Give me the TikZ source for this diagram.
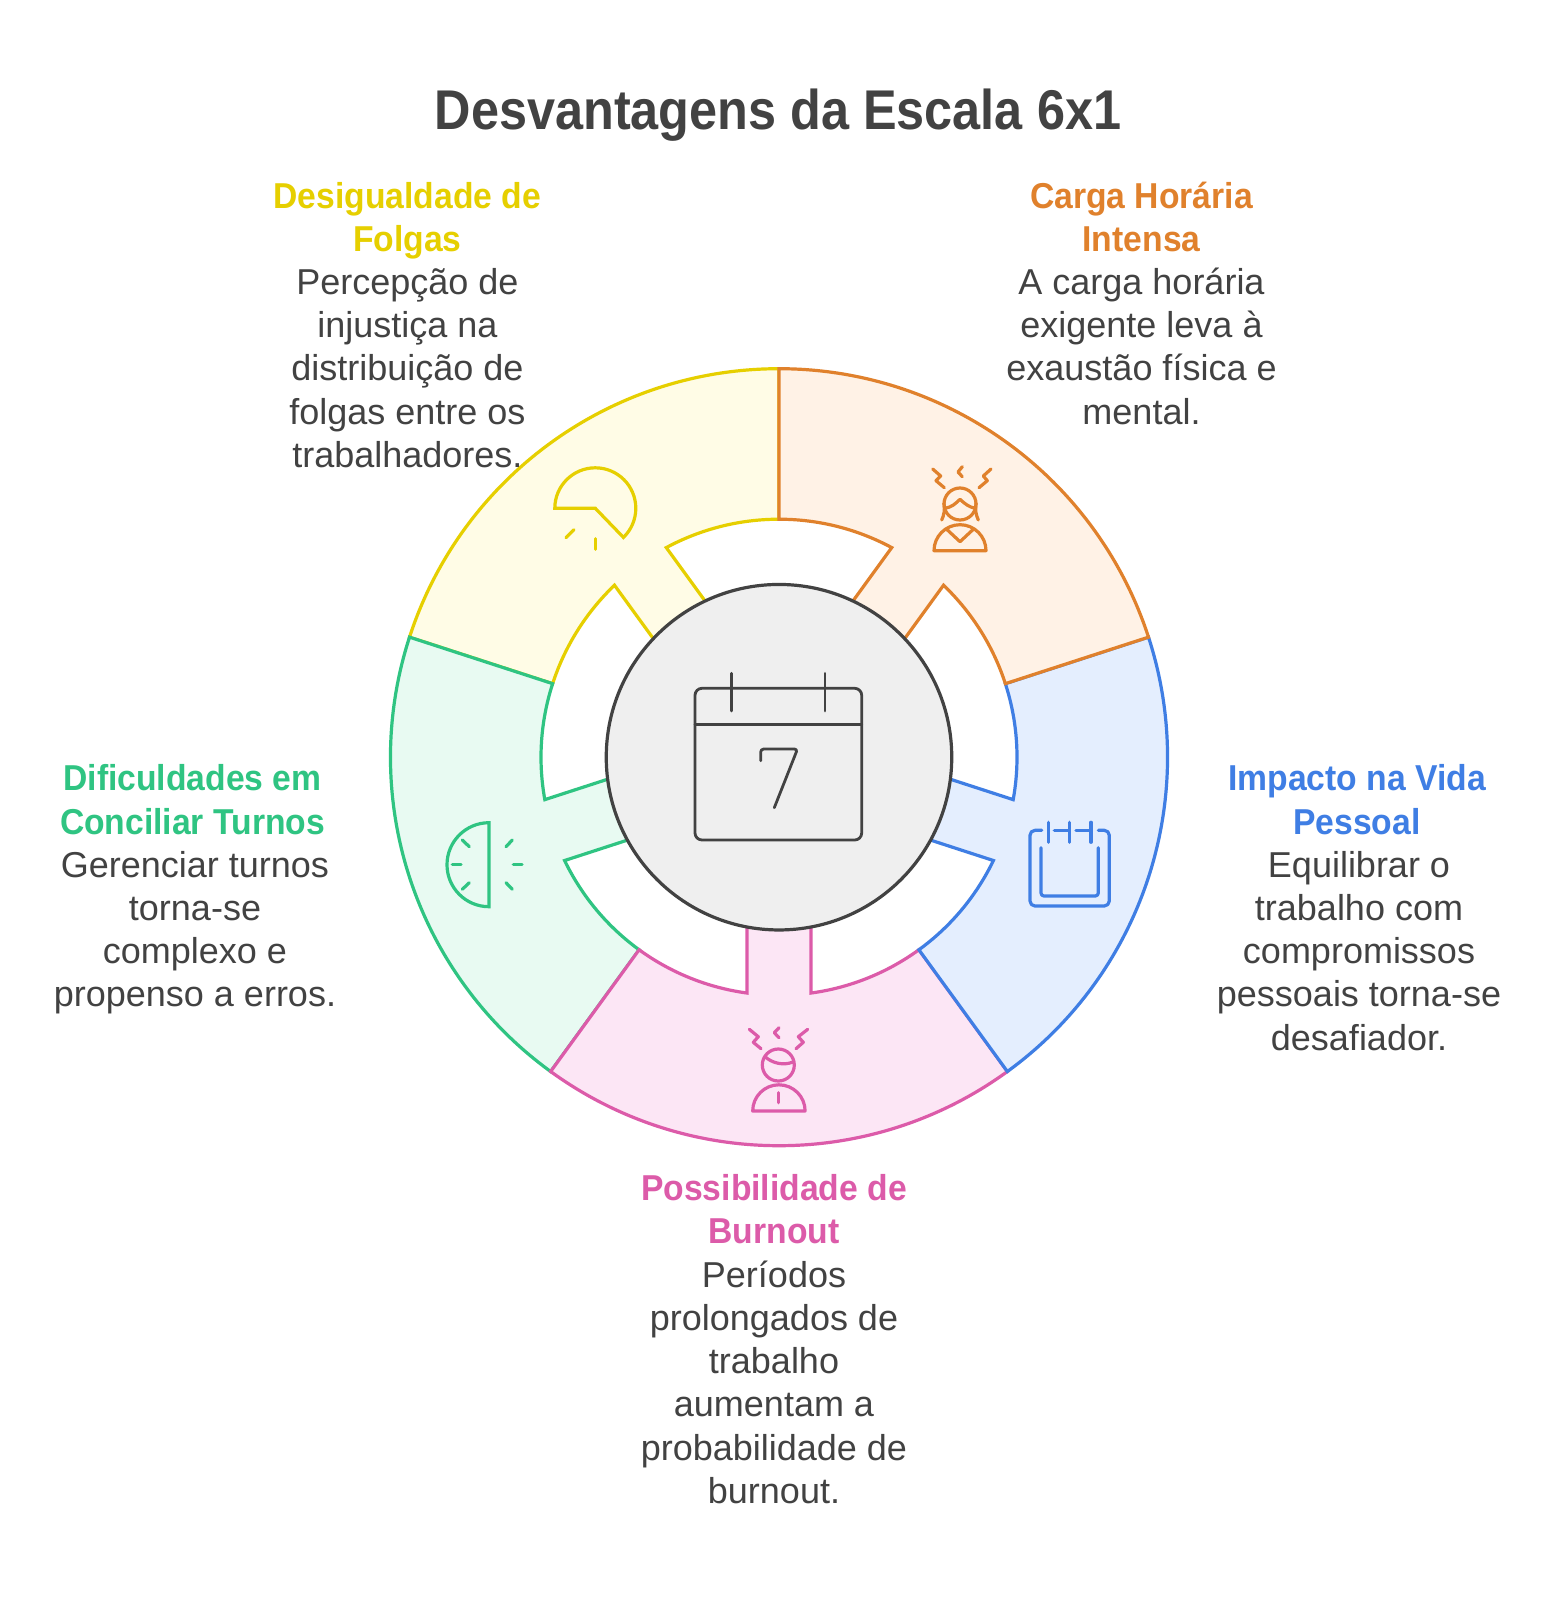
\documentclass[tikz,border=0pt]{standalone}
\usepackage{fontspec}
\setmainfont{Liberation Sans}
\newfontfamily\headfam[FakeStretch=0.935]{Liberation Sans}
\newfontfamily\titlefam[FakeStretch=0.9]{Liberation Sans}
\definecolor{ink}{HTML}{424242}
\definecolor{hubfill}{HTML}{EFEFEF}
\definecolor{cOr}{HTML}{E0812C}\definecolor{fOr}{HTML}{FFF2E6}
\definecolor{cYe}{HTML}{E6CF00}\definecolor{fYe}{HTML}{FFFCE6}
\definecolor{cBl}{HTML}{3F7EE4}\definecolor{fBl}{HTML}{E4EEFE}
\definecolor{cPi}{HTML}{DC5BA9}\definecolor{fPi}{HTML}{FCE6F5}
\definecolor{cGr}{HTML}{2FC482}\definecolor{fGr}{HTML}{E8FAF2}
\newcommand\lh{\rule{0pt}{30pt}}
\tikzset{
  headtext/.style={anchor=north,align=center,inner sep=0pt,font=\headfam\fontsize{36}{43.2}\selectfont\bfseries},
  bodytext/.style={anchor=north,align=center,inner sep=0pt,text=ink,font=\fontsize{36}{43.2}\selectfont},
  icon/.style={line width=3.2pt,line cap=round,line join=round},
}
\newcommand\sector[3]{%
  \begin{scope}[x=1pt,y=1pt,shift={(779pt,-757.2pt)},rotate=#1]
    \draw[line width=3.2pt,draw=#2,fill=#3,miter limit=10]
      (-126:388.5) arc[start angle=-126,end angle=-54,radius=388.5pt]
      -- (-54:238) arc[start angle=-54,end angle=-82.27,radius=238pt]
      -- (32,-160) -- (-32,-160) -- (-97.73:238)
      arc[start angle=-97.73,end angle=-126,radius=238pt] -- cycle;
  \end{scope}}
\begin{document}
\begin{tikzpicture}[x=1pt,y=-1pt]
\useasboundingbox[fill=white] (0,0) rectangle (1557,1600);
\sector{-144}{cYe}{fYe}
\sector{-72}{cGr}{fGr}
\sector{0}{cPi}{fPi}
\sector{72}{cBl}{fBl}
\sector{144}{cOr}{fOr}
\node[circle,draw=ink,fill=hubfill,line width=3.2pt,minimum size=345.5pt,inner sep=0pt] (hub) at (779,757.2) {};
% calendar
\begin{scope}[icon,draw=ink,line width=2.8pt]
  \draw[rounded corners=7pt] (695,688.3) rectangle (861.7,840);
  \draw (695,724.7) -- (861.7,724.7);
  \draw (731.7,673.3) -- (731.7,711);
  \draw (825,673.3) -- (825,711);
  \draw[rounded corners=3pt] (760.7,760.7) -- (760.7,749) -- (797.5,749) -- (774.3,807.7);
\end{scope}
% orange person
\begin{scope}[icon,draw=cOr]
  \draw (960,504) circle[radius=16];
  \draw (945,508.3) .. controls (952,507) and (955,504) .. (960,499.3) .. controls (965,504) and (969,507) .. (975,508.3);
  \draw (944,503) .. controls (945,510) and (944,515) .. (941.7,520);
  \draw (976,503) .. controls (975,510) and (976,515) .. (978.3,520);
  \draw (934,550.7) arc[start angle=180,end angle=360,radius=26] -- cycle;
  \draw (946.7,529.3) -- (960,541.7) -- (973.3,529.3);
  \draw (932.7,469) -- (940.7,476) -- (936,480.7) -- (944.3,487.7);
  \draw (962.3,466.7) -- (958,472) -- (962.3,476.7);
  \draw (991,469) -- (983.3,476) -- (987.3,480.7) -- (979,487.7);
\end{scope}
% yellow sundial
\begin{scope}[icon,draw=cYe,line join=miter]
  \draw (595.3,508.3) -- (554.8,508.3) arc[start angle=180,end angle=406,radius=40.5] -- cycle;
  \draw (566,537.7) -- (574,529.7);
  \draw (595.3,538.7) -- (595.3,549.3);
\end{scope}
% blue calendar
\begin{scope}[icon,draw=cBl]
  \draw[rounded corners=5pt] (1041.7,830.3) -- (1030,830.3) -- (1030,906) -- (1109.3,906) -- (1109.3,830.3) -- (1098.3,830.3);
  \draw[rounded corners=3pt] (1041,847.7) -- (1041,896) -- (1098.3,896) -- (1098.3,847.7);
  \draw (1048.3,822.3) -- (1048.3,842.3);
  \draw (1069.3,822.3) -- (1069.3,842.3);
  \draw (1091,822.3) -- (1091,842.3);
  \draw (1054.3,830.3) -- (1069.3,830.3);
  \draw (1076,830.3) -- (1091,830.3);
\end{scope}
% pink person
\begin{scope}[icon,draw=cPi]
  \draw (778.3,1065) circle[radius=16];
  \draw (765,1056.7) .. controls (772,1063) and (783,1066) .. (793,1062);
  \draw (752.7,1111) arc[start angle=180,end angle=360,radius=26.2] -- cycle;
  \draw (778.3,1092.7) -- (778.3,1102.7);
  \draw (749.3,1029.3) -- (758.3,1036.7) -- (753.3,1042.3) -- (761,1048.7);
  \draw (779,1027.7) -- (774.3,1032.7) -- (779,1037.7);
  \draw (807.7,1029.3) -- (798.3,1036.7) -- (803.3,1042.3) -- (796,1048.7);
\end{scope}
% green half dial
\begin{scope}[icon,draw=cGr,line join=miter]
  \draw (489,822.7) arc[start angle=270,end angle=90,radius=42] -- cycle;
  \draw (462.3,840) -- (469.3,846.7);
  \draw (452.3,864.5) -- (461,864.5);
  \draw (462.3,889.3) -- (469.3,882.7);
  \draw (506,846.7) -- (512.3,840);
  \draw (513.3,864.5) -- (522,864.5);
  \draw (506,882.7) -- (512.3,889.3);
\end{scope}
% texts
\node[anchor=base,text=ink,font=\titlefam\fontsize{56}{60}\selectfont\bfseries] (title) at (778,130) {Desvantagens da Escala 6x1};
\node[headtext,text=cYe] (h1) at (407.4,178) {\lh Desigualdade de\\Folgas};
\node[bodytext] (b1) at (407.4,264.3) {\lh Percepção de\\injustiça na\\distribuição de\\folgas entre os\\trabalhadores.};
\node[headtext,text=cOr] (h2) at (1141.5,178) {\lh Carga Horária\\Intensa};
\node[bodytext] (b2) at (1141.5,264.3) {\lh A carga horária\\exigente leva à\\exaustão física e\\mental.};
\node[headtext,text=cGr] (h3) at (192.5,760.6) {\lh Dificuldades em\\Conciliar Turnos};
\node[bodytext] (b3) at (195,847) {\lh Gerenciar turnos\\torna-se\\complexo e\\propenso a erros.};
\node[headtext,text=cBl] (h4) at (1357,760.6) {\lh Impacto na Vida\\Pessoal};
\node[bodytext] (b4) at (1359,847) {\lh Equilibrar o\\trabalho com\\compromissos\\pessoais torna-se\\desafiador.};
\node[headtext,text=cPi] (h5) at (774,1170.3) {\lh Possibilidade de\\Burnout};
\node[bodytext] (b5) at (774,1257) {\lh Períodos\\prolongados de\\trabalho\\aumentam a\\probabilidade de\\burnout.};
\end{tikzpicture}
\end{document}
